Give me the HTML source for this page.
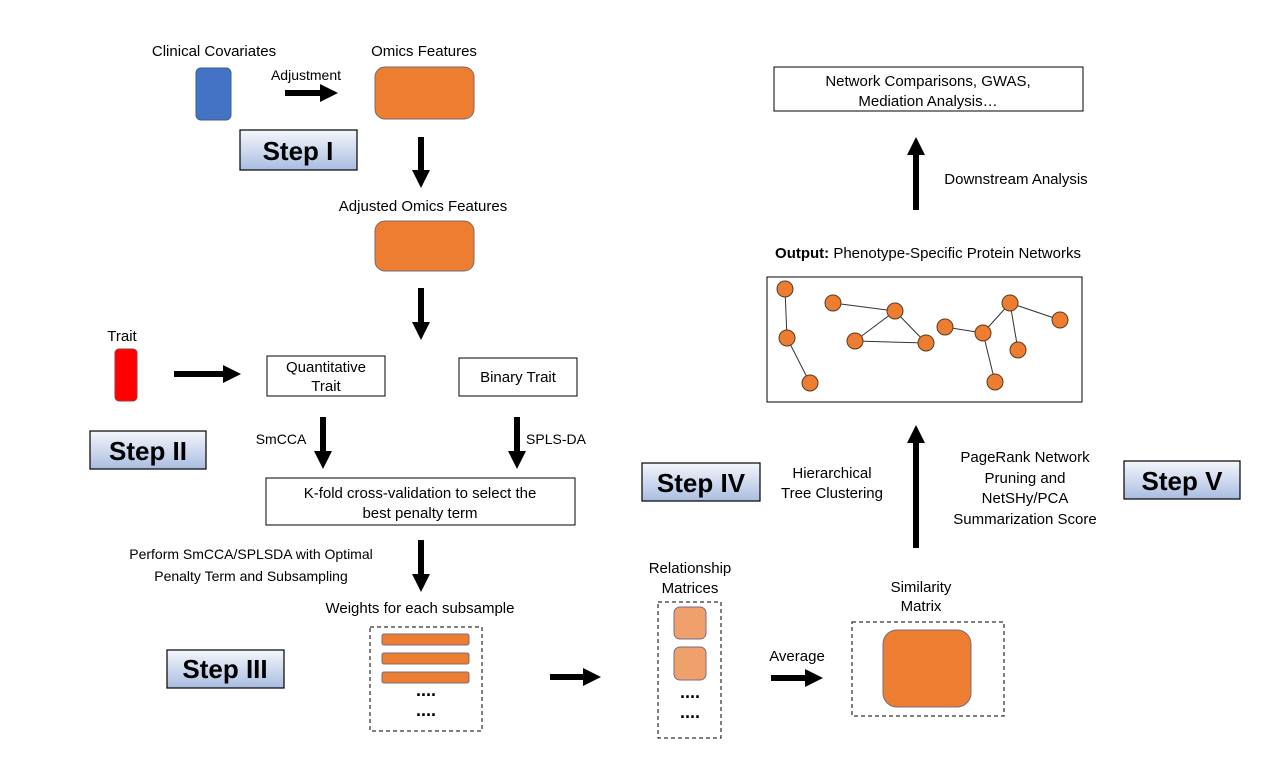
<!DOCTYPE html>
<html><head><meta charset="utf-8"><style>
body{margin:0;background:#fff}
svg text{font-family:"Liberation Sans",Arial,sans-serif;fill:#000}
</style></head><body>
<svg width="1280" height="768" viewBox="0 0 1280 768" xmlns="http://www.w3.org/2000/svg">
<defs>
<linearGradient id="g" x1="0" y1="0" x2="0" y2="1">
<stop offset="0" stop-color="#f4f7fc"/><stop offset="1" stop-color="#a9bde0"/>
</linearGradient>
</defs>
<g stroke="#000" stroke-width="1.2" fill="url(#g)">
<rect x="240" y="130" width="117" height="40"/>
<rect x="90" y="431" width="116" height="38"/>
<rect x="167" y="650" width="117" height="38"/>
<rect x="642" y="463" width="118" height="38"/>
<rect x="1124" y="461" width="116" height="38"/>
</g>
<g font-size="26" font-weight="bold" text-anchor="middle">
<text x="298" y="160">Step I</text>
<text x="148" y="460">Step II</text>
<text x="225" y="678">Step III</text>
<text x="701" y="492">Step IV</text>
<text x="1182" y="490">Step V</text>
</g>
<g font-size="15" text-anchor="middle">
<text x="214" y="56">Clinical Covariates</text>
<text x="424" y="56">Omics Features</text>
<text x="306" y="80" font-size="14">Adjustment</text>
<text x="423" y="211">Adjusted Omics Features</text>
<text x="122" y="341">Trait</text>
</g>
<rect x="196" y="68" width="35" height="52" rx="5" fill="#4472c4" stroke="#3a5f9f"/>
<rect x="375" y="67" width="99" height="52" rx="10" fill="#ed7d31" stroke="#7a6a6a"/>
<rect x="375" y="221" width="99" height="50" rx="10" fill="#ed7d31" stroke="#7a6a6a"/>
<rect x="115" y="349" width="22" height="52" rx="4" fill="#ff0000" stroke="#a33"/>
<g fill="#000">
<rect x="285" y="90" width="36" height="6"/><polygon points="320,84 338,93 320,102"/>
<rect x="418" y="137" width="6" height="34"/><polygon points="412,170 430,170 421,188"/>
<rect x="418" y="288" width="6" height="35"/><polygon points="412,322 430,322 421,340"/>
<rect x="174" y="371" width="50" height="6"/><polygon points="223,365 241,374 223,383"/>
<rect x="320" y="417" width="6" height="35"/><polygon points="314,451 332,451 323,469"/>
<rect x="514" y="417" width="6" height="35"/><polygon points="508,451 526,451 517,469"/>
<rect x="418" y="540" width="6" height="35"/><polygon points="412,574 430,574 421,592"/>
<rect x="550" y="674" width="34" height="6"/><polygon points="583,668 601,677 583,686"/>
<rect x="771" y="675" width="35" height="6"/><polygon points="805,669 823,678 805,687"/>
<rect x="913" y="442" width="6" height="106"/><polygon points="907,443 925,443 916,425"/>
<rect x="913" y="154" width="6" height="56"/><polygon points="907,155 925,155 916,137"/>
</g>
<g fill="#fff" stroke="#000" stroke-width="1">
<rect x="267" y="356" width="118" height="40"/>
<rect x="459" y="358" width="118" height="38"/>
<rect x="266" y="478" width="309" height="47"/>
<rect x="774" y="67" width="309" height="44"/>
<rect x="767" y="277" width="315" height="125"/>
</g>
<g font-size="15" text-anchor="middle">
<text x="326" y="372">Quantitative</text>
<text x="326" y="391">Trait</text>
<text x="518" y="382">Binary Trait</text>
<text x="420" y="498">K-fold cross-validation to select the</text>
<text x="420" y="518">best penalty term</text>
<text x="928" y="86">Network Comparisons, GWAS,</text>
<text x="928" y="106">Mediation Analysis…</text>
<text x="1016" y="184">Downstream Analysis</text>
<text x="928" y="258"><tspan font-weight="bold">Output:</tspan> Phenotype-Specific Protein Networks</text>
<text x="281" y="444" font-size="14">SmCCA</text>
<text x="556" y="444" font-size="14">SPLS-DA</text>
<text x="251" y="559" font-size="14">Perform SmCCA/SPLSDA with Optimal</text>
<text x="251" y="581" font-size="14">Penalty Term and Subsampling</text>
<text x="420" y="613">Weights for each subsample</text>
<text x="690" y="573">Relationship</text>
<text x="690" y="593">Matrices</text>
<text x="797" y="661">Average</text>
<text x="921" y="592">Similarity</text>
<text x="921" y="611">Matrix</text>
<text x="832" y="478">Hierarchical</text>
<text x="832" y="498">Tree Clustering</text>
<text x="1025" y="462">PageRank Network</text>
<text x="1025" y="483">Pruning and</text>
<text x="1025" y="503">NetSHy/PCA</text>
<text x="1025" y="524">Summarization Score</text>
</g>
<g fill="none" stroke="#000" stroke-dasharray="4,3" stroke-width="1">
<rect x="370" y="627" width="112" height="104"/>
<rect x="658" y="602" width="63" height="136"/>
<rect x="852" y="622" width="152" height="94"/>
</g>
<g fill="#ed7d31" stroke="#7a6a80">
<rect x="382" y="634" width="87" height="11" rx="2"/>
<rect x="382" y="653" width="87" height="11" rx="2"/>
<rect x="382" y="672" width="87" height="11" rx="2"/>
<rect x="883" y="630" width="88" height="77" rx="14"/>
</g>
<g fill="#f0a06a" stroke="#7a6a80">
<rect x="674" y="607" width="32" height="32" rx="6"/>
<rect x="674" y="647" width="32" height="33" rx="6"/>
</g>
<g font-size="18" font-weight="bold" text-anchor="middle">
<text x="426" y="696">....</text>
<text x="426" y="716">....</text>
<text x="690" y="698">....</text>
<text x="690" y="718">....</text>
</g>
<g stroke="#333" stroke-width="1">
<line x1="785" y1="289" x2="787" y2="338"/>
<line x1="787" y1="338" x2="810" y2="383"/>
<line x1="833" y1="303" x2="895" y2="311"/>
<line x1="895" y1="311" x2="855" y2="341"/>
<line x1="895" y1="311" x2="926" y2="343"/>
<line x1="855" y1="341" x2="926" y2="343"/>
<line x1="945" y1="327" x2="983" y2="333"/>
<line x1="983" y1="333" x2="1010" y2="303"/>
<line x1="983" y1="333" x2="995" y2="382"/>
<line x1="1010" y1="303" x2="1060" y2="320"/>
<line x1="1010" y1="303" x2="1018" y2="350"/>
</g>
<g fill="#ed7d31" stroke="#5a3a20" stroke-width="1">
<circle cx="785" cy="289" r="8"/><circle cx="787" cy="338" r="8"/><circle cx="810" cy="383" r="8"/>
<circle cx="833" cy="303" r="8"/><circle cx="895" cy="311" r="8"/><circle cx="855" cy="341" r="8"/>
<circle cx="926" cy="343" r="8"/><circle cx="945" cy="327" r="8"/><circle cx="983" cy="333" r="8"/>
<circle cx="1010" cy="303" r="8"/><circle cx="1060" cy="320" r="8"/><circle cx="1018" cy="350" r="8"/>
<circle cx="995" cy="382" r="8"/>
</g>
</svg>
</body></html>
